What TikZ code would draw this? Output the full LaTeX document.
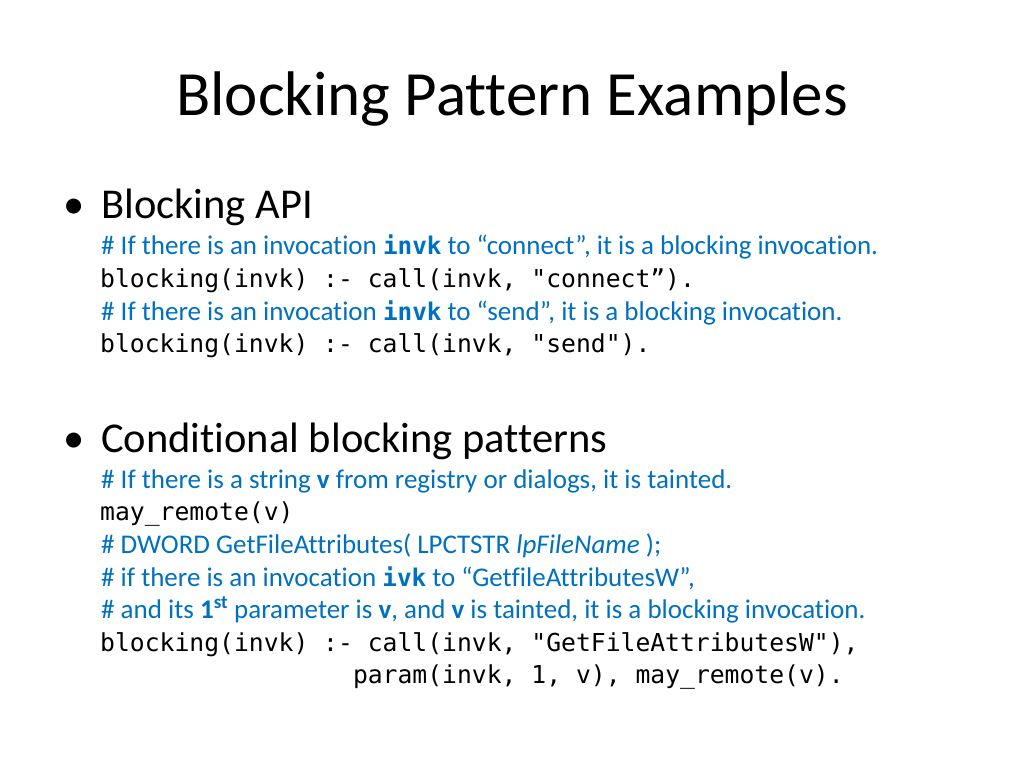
\documentclass[tikz,border=0pt]{standalone}
\usepackage{fontspec}
\setmainfont[Ligatures=NoCommon]{Carlito}
\newfontfamily\codefont{DejaVu Sans Mono}
\newfontfamily\cbfont[Scale=0.9]{DejaVu Sans Mono}
\definecolor{cmtblue}{RGB}{0,112,192}
\tikzset{
  ttl/.style={anchor=base,inner sep=0pt,font=\fontsize{63}{70}\selectfont},
  bul/.style={anchor=base west,inner sep=0pt,font=\fontsize{42.5}{46}\selectfont},
  cmt/.style={anchor=base west,inner sep=0pt,text=cmtblue,font=\fontsize{27}{30}\selectfont},
  code/.style={anchor=base west,inner sep=0pt,font=\codefont\fontsize{24.7}{28}\selectfont},
}
\newcommand{\cb}[1]{{\cbfont\bfseries #1}}
\begin{document}
\begin{tikzpicture}[x=1pt,y=-1pt]
\useasboundingbox[fill=white] (0,0) rectangle (1024,768);
\node[ttl] (title) at (512,115) {Blocking Pattern Examples};
\node[bul] (b1dot) at (63,218) {•};
\node[bul] (b1) at (101,218) {Blocking API};
\node[cmt] (c1) at (101,254) {\# If there is an invocation \cb{invk} to “connect”, it is a blocking invocation.};
\node[code] (k1) at (100,287) {blocking(invk) :- call(invk, "connect”).};
\node[cmt] (c2) at (101,320) {\# If there is an invocation \cb{invk} to “send”, it is a blocking invocation.};
\node[code] (k2) at (100,352) {blocking(invk) :- call(invk, "send").};
\node[bul] (b2dot) at (63,452) {•};
\node[bul] (b2) at (101,452) {Conditional blocking patterns};
\node[cmt] (c3) at (101,488) {\# If there is a string \textbf{v} from registry or dialogs, it is tainted.};
\node[code] (k3) at (100,520) {may\_remote(v)};
\node[cmt] (c4) at (101,553) {\# DWORD GetFileAttributes( LPCTSTR \textit{lpFileName} );};
\node[cmt] (c5) at (101,586) {\# if there is an invocation \cb{ivk} to “GetfileAttributesW”,};
\node[cmt] (c6) at (101,618) {\# and its \textbf{1\textsuperscript{st}} parameter is \textbf{v}, and \textbf{v} is tainted, it is a blocking invocation.};
\node[code] (k4) at (100,651) {blocking(invk) :- call(invk, "GetFileAttributesW"),};
\node[code] (k5) at (100,683) {\phantom{xxxxxxxxxxxxxxxxx}param(invk, 1, v), may\_remote(v).};
\end{tikzpicture}
\end{document}
